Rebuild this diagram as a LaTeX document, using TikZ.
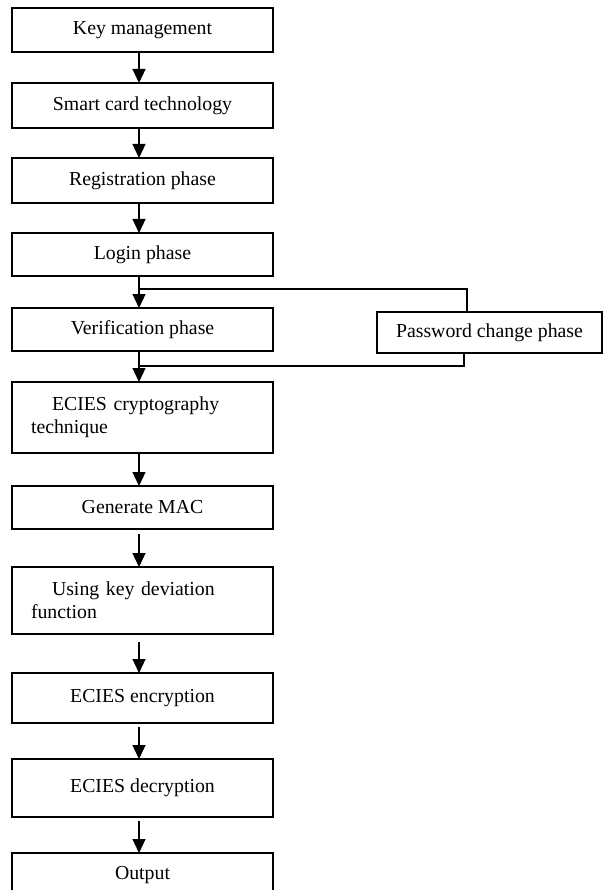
\documentclass[tikz,border=0pt]{standalone}
\usepackage{fontspec}
\setmainfont{Liberation Serif}
\usetikzlibrary{arrows.meta, positioning}

\begin{document}
\begin{tikzpicture}[x=1pt, y=-1pt, >={Triangle[length=14pt, width=13pt]}]
    \tikzstyle{stage} = [draw, rectangle, line width=1.2pt, minimum width=261pt, minimum height=44pt, inner sep=0pt, outer sep=0pt, align=center, font=\fontsize{19.8}{23}\selectfont]
    \tikzstyle{para} = [stage, text width=223pt, align=left]
    \tikzstyle{flow} = [->, line width=1.2pt]
    \tikzstyle{wire} = [line width=1.2pt]

    \useasboundingbox (0,0) rectangle (603,890);

    \node [stage] (keymgmt) at (142.5,30) {Key management};
    \node [stage, minimum height=45pt, below=31pt of keymgmt] (smartcard) {Smart card technology};
    \node [stage, minimum height=45pt, below=30pt of smartcard] (register) {Registration phase};
    \node [stage, minimum height=43pt, below=30pt of register] (login) {Login phase};
    \node [stage, minimum height=43pt, below=32pt of login] (verify) {Verification phase};
    \node [stage, minimum width=225pt, minimum height=41pt, right=104pt of verify, yshift=-3pt] (pwchange) {Password change phase};
    \node [para, minimum height=71pt, below=31pt of verify] (ecies) {\hspace*{21pt}ECIES cryptography\\technique};
    \node [stage, minimum height=43pt, below=33pt of ecies] (mac) {Generate MAC};
    \node [para, minimum height=67pt, below=38pt of mac] (kdf) {\hspace*{21pt}Using key deviation\\function};
    \node [stage, minimum height=50pt, below=39pt of kdf] (encrypt) {ECIES encryption};
    \node [stage, minimum height=58pt, below=36pt of encrypt] (decrypt) {ECIES decryption};
    \node [stage, below=36pt of decrypt] (output) {Output};

    % main flow
    \draw[flow] ([xshift=-3.5pt]keymgmt.south) -- ([xshift=-3.5pt]smartcard.north);
    \draw[flow] ([xshift=-3.5pt]smartcard.south) -- ([xshift=-3.5pt]register.north);
    \draw[flow] ([xshift=-3.5pt]register.south) -- ([xshift=-3.5pt]login.north);
    \draw[flow] ([xshift=-3.5pt]login.south) -- ([xshift=-3.5pt]verify.north);
    \draw[flow] ([xshift=-3.5pt]verify.south) -- ([xshift=-3.5pt]ecies.north);
    \draw[flow] ([xshift=-3.5pt]ecies.south) -- ([xshift=-3.5pt]mac.north);
    \draw[flow, shorten <=5pt] ([xshift=-3.5pt]mac.south) -- ([xshift=-3.5pt]kdf.north);
    \draw[flow, shorten <=8pt] ([xshift=-3.5pt]kdf.south) -- ([xshift=-3.5pt]encrypt.north);
    \draw[flow, shorten <=4pt] ([xshift=-3.5pt]encrypt.south) -- ([xshift=-3.5pt]decrypt.north);
    \draw[flow, shorten <=4pt] ([xshift=-3.5pt]decrypt.south) -- ([xshift=-3.5pt]output.north);

    % password change branch
    \coordinate (split) at ([xshift=-3.5pt, yshift=-13pt]login.south);
    \coordinate (merge) at ([xshift=-3.5pt, yshift=-15pt]verify.south);
    \draw[wire] (split) -| ([xshift=-22.5pt]pwchange.north);
    \draw[wire] ([xshift=-25.5pt]pwchange.south) |- (merge);
\end{tikzpicture}
\end{document}
